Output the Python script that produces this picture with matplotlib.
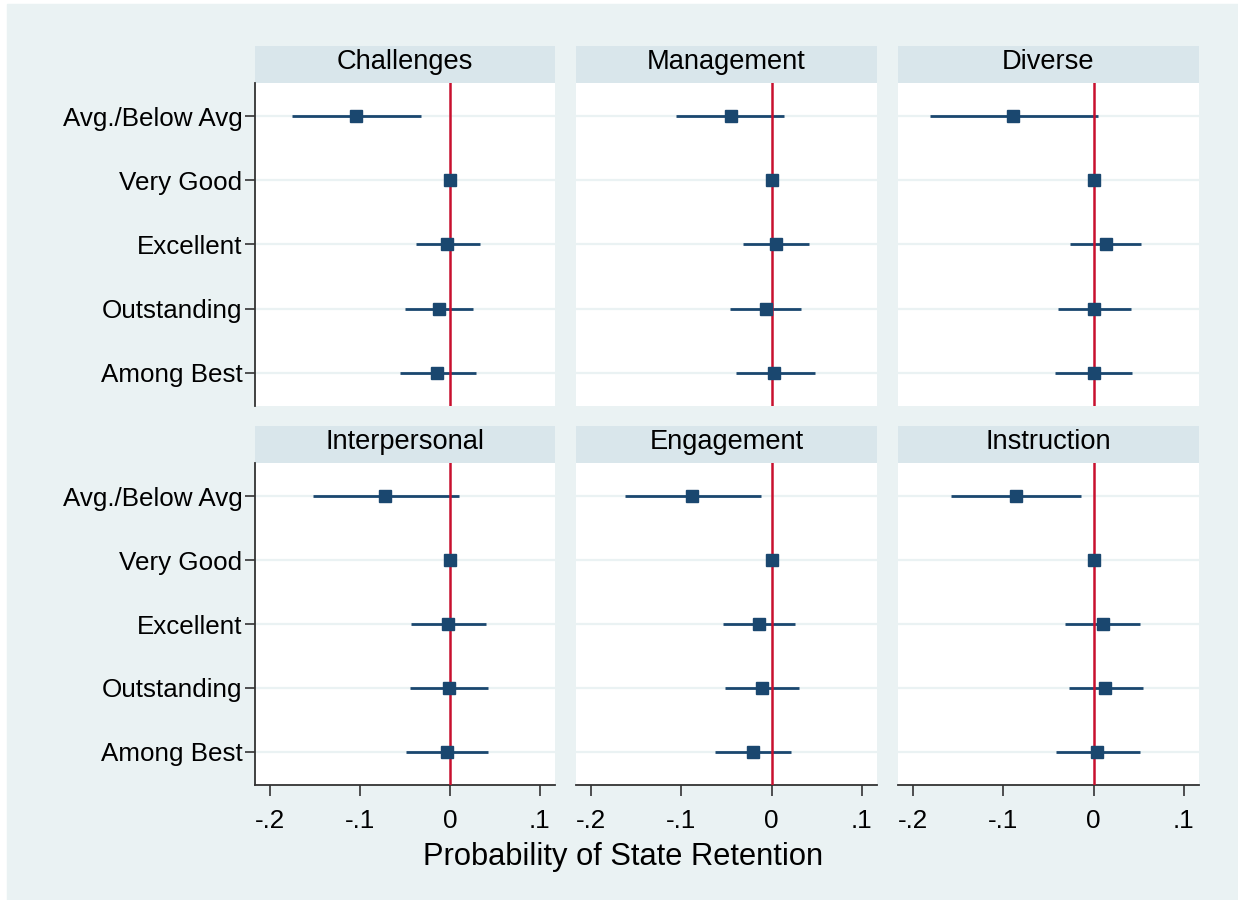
import matplotlib
matplotlib.use("Agg")
from matplotlib import pyplot as plt
from matplotlib.patches import Rectangle

plt.rcParams['font.family'] = ['Liberation Sans', 'DejaVu Sans']

categories = ["Avg./Below Avg", "Very Good", "Excellent", "Outstanding", "Among Best"]
panel_titles = ["Challenges", "Management", "Diverse",
                "Interpersonal", "Engagement", "Instruction"]

challenges_est = [-0.104, 0.0, -0.003, -0.012, -0.014]
challenges_lo = [-0.176, 0.0, -0.038, -0.050, -0.056]
challenges_hi = [-0.032, 0.0, 0.033, 0.026, 0.029]

management_est = [-0.045, 0.0, 0.005, -0.006, 0.003]
management_lo = [-0.106, 0.0, -0.032, -0.046, -0.040]
management_hi = [0.014, 0.0, 0.042, 0.033, 0.048]

diverse_est = [-0.089, 0.0, 0.014, 0.0, 0.0]
diverse_lo = [-0.182, 0.0, -0.026, -0.040, -0.043]
diverse_hi = [0.005, 0.0, 0.053, 0.041, 0.043]

interpersonal_est = [-0.072, 0.0, -0.002, -0.001, -0.003]
interpersonal_lo = [-0.152, 0.0, -0.043, -0.044, -0.049]
interpersonal_hi = [0.010, 0.0, 0.040, 0.042, 0.042]

engagement_est = [-0.088, 0.0, -0.014, -0.011, -0.021]
engagement_lo = [-0.163, 0.0, -0.054, -0.052, -0.063]
engagement_hi = [-0.012, 0.0, 0.026, 0.031, 0.022]

instruction_est = [-0.086, 0.0, 0.010, 0.013, 0.004]
instruction_lo = [-0.158, 0.0, -0.032, -0.027, -0.042]
instruction_hi = [-0.014, 0.0, 0.052, 0.055, 0.051]

x_ticks = [-0.2, -0.1, 0.0, 0.1]
x_ticklabels = ["-.2", "-.1", "0", ".1"]

estimates = [challenges_est, management_est, diverse_est,
             interpersonal_est, engagement_est, instruction_est]
lows = [challenges_lo, management_lo, diverse_lo,
        interpersonal_lo, engagement_lo, instruction_lo]
highs = [challenges_hi, management_hi, diverse_hi,
         interpersonal_hi, engagement_hi, instruction_hi]

W, H = 1238, 900
BG = '#EAF2F3'
STRIP = '#D9E6EB'
NAVY = '#1A476F'
RED = '#C8102E'


def box(l, t, r, b):
    return [l / W, 1 - b / H, (r - l) / W, (b - t) / H]


fig = plt.figure(figsize=(W / 100, H / 100), dpi=100)
fig.patch.set_facecolor('white')
fig.add_artist(Rectangle((7 / W, 0), 1 - 7 / W, 1 - 4 / H,
                         transform=fig.transFigure, color=BG, zorder=-10))

cols = [(255, 555), (576, 877), (898, 1199)]
rows = [(46, 83, 406), (426, 463, 785)]
ypos = list(range(1, len(categories) + 1))

for i, title in enumerate(panel_titles):
    r, c = divmod(i, 3)
    l, rr = cols[c]
    st, pt, pb = rows[r]

    sax = fig.add_axes(box(l, st, rr, pt))
    sax.set_facecolor(STRIP)
    sax.set_xticks([])
    sax.set_yticks([])
    for s in sax.spines.values():
        s.set_visible(False)
    sax.text(0.5, 0.56, title, ha='center', va='center', fontsize=19.6,
             transform=sax.transAxes)

    ax = fig.add_axes(box(l, pt, rr, pb))
    ax.set_facecolor('white')
    for y in ypos:
        ax.axhline(y, color=BG, lw=1.6, zorder=1)
    ax.hlines(ypos, lows[i], highs[i], color=NAVY, lw=2.0, zorder=2)
    ax.axvline(0, color=RED, lw=1.8, zorder=3)
    ax.plot(estimates[i], ypos, 's', color=NAVY, ms=8.5, zorder=4)

    ax.set_xlim(-0.217, 0.117)
    ax.set_ylim(5.52, 0.48)

    for s in ['top', 'right']:
        ax.spines[s].set_visible(False)
    ax.spines['left'].set_visible(c == 0)
    ax.spines['bottom'].set_visible(r == 1)
    ax.spines['left'].set_color('#333333')
    ax.spines['bottom'].set_color('#333333')
    ax.spines['left'].set_linewidth(1.3)
    ax.spines['bottom'].set_linewidth(1.3)

    if c == 0:
        ax.set_yticks(ypos)
        ax.set_yticklabels(categories)
        ax.tick_params(axis='y', length=7, width=1.2, pad=2, labelsize=18.7,
                       color='#333333')
    else:
        ax.set_yticks([])
    if r == 1:
        ax.set_xticks(x_ticks)
        ax.set_xticklabels(x_ticklabels)
        ax.tick_params(axis='x', length=8, width=1.2, pad=9, labelsize=18.7,
                       color='#333333')
    else:
        ax.set_xticks([])

fig.text(623 / W, 1 - 857 / H, "Probability of State Retention",
         ha='center', va='center', fontsize=22.2)

fig.savefig('out.png', dpi=100, facecolor=fig.get_facecolor())
